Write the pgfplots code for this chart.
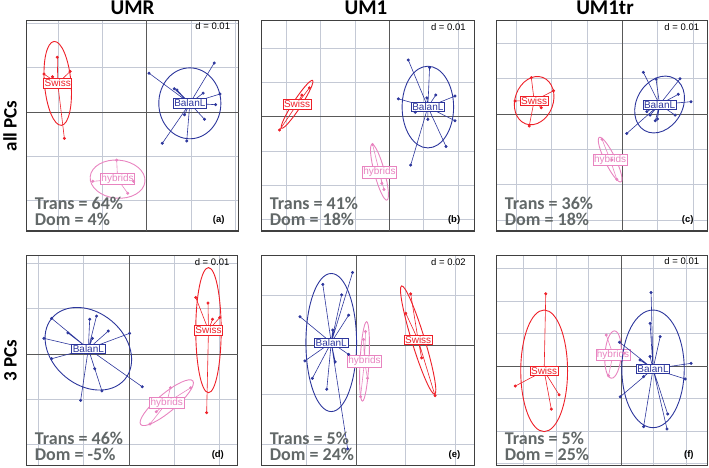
\documentclass[border=0pt]{standalone}
\usepackage{fontspec}
\setmainfont{Liberation Sans}
\newfontfamily\calfont{Carlito}
\usepackage{pgfplots}
\pgfplotsset{compat=1.18}

\definecolor{cred}{RGB}{238,32,40}
\definecolor{cblue}{RGB}{44,54,156}
\definecolor{cpink}{RGB}{232,132,192}
\definecolor{gridc}{RGB}{196,201,213}
\definecolor{statgray}{RGB}{98,104,104}

\newcommand{\ttl}{\calfont\bfseries\fontsize{21}{23}\selectfont}
\newcommand{\rowl}{\calfont\bfseries\fontsize{19}{21}\selectfont}
\newcommand{\stat}{\calfont\bfseries\fontsize{18}{16}\selectfont}
\newcommand{\lab}{\fontsize{10}{11}\selectfont}

\pgfplotsset{pan/.style={
    scale only axis, anchor=south west,
    axis line style={black!75, line width=1.1pt},
    xtick={-4,-3,-2,-1,1,2,3}, ytick={-4,-3,-2,-1,1,2,3},
    xticklabels={}, yticklabels={}, major tick length=0pt,
    grid=major, grid style={gridc, line width=1pt},
    extra x ticks={0}, extra y ticks={0},
    extra x tick labels={}, extra y tick labels={},
    extra tick style={grid style={black!65, line width=1pt}, major tick length=0pt},
}}

% colour, cx, cy, angle, x radius, y radius, star coordinates (centre, point, centre, point ...), label
\newcommand{\grp}[8]{%
  \draw[#1, line width=0.9pt, rotate around={#4:(axis cs:#2,#3)}]
    (axis cs:#2,#3) ellipse [x radius=#5, y radius=#6];
  \addplot[#1, line width=0.6pt, mark=*, mark size=1.2pt, mark phase=2, mark repeat=2] coordinates {#7};
  \node[draw=#1, line width=0.6pt, fill=white, text=#1, font=\lab, inner sep=1pt]
    at (axis cs:#2,#3) {#8};
}

% d, letter, trans, dom
\newcommand{\ann}[4]{%
  \node[anchor=base east, font=\fontsize{9.5}{11}\selectfont]
    at ([xshift=-5pt,yshift=-9.5pt]rel axis cs:1,1) {d = #1};
  \node[anchor=base east, font=\bfseries\fontsize{9.5}{11}\selectfont]
    at ([xshift=-10.5pt,yshift=8.3pt]rel axis cs:1,0) {(#2)};
  \node[anchor=south west, font=\stat, text=statgray, align=left, inner sep=0pt]
    at ([xshift=8pt,yshift=5pt]rel axis cs:0,0) {Trans = #3\%\\Dom = #4\%};
}

\begin{document}
\begin{tikzpicture}
\useasboundingbox (0,0) rectangle (709pt,467pt);

% ---------- (a) UMR, all PCs
\begin{axis}[pan, at={(26.7pt,236pt)}, x=44.33pt, y=44.33pt,
    xmin=-2.71, xmax=2.07, ymin=-2.68, ymax=2.07]
\grp{cpink}{-0.66}{-1.51}{-5}{0.62}{0.43}{(-0.66,-1.51)(-0.68,-1.08)(-0.66,-1.51)(-1.22,-1.56)(-0.66,-1.51)(-0.43,-1.83)(-0.66,-1.51)(-0.30,-1.56)}{hybrids}
\grp{cblue}{0.97}{0.20}{0}{0.70}{0.80}{(0.97,0.20)(0.05,0.88)(0.97,0.20)(0.62,0.53)(0.97,0.20)(0.68,0.50)(0.97,0.20)(1.52,1.11)(0.97,0.20)(1.27,0.43)(0.97,0.20)(1.65,0.41)(0.97,0.20)(1.55,0.17)(0.97,0.20)(0.85,-0.06)(0.97,0.20)(1.30,-0.16)(0.97,0.20)(0.90,-0.65)(0.97,0.20)(0.35,-0.70)}{BalanL}
\grp{cred}{-2.01}{0.65}{5}{0.30}{0.95}{(-2.01,0.65)(-2.02,1.24)(-2.01,0.65)(-2.32,0.86)(-2.01,0.65)(-2.13,0.80)(-2.01,0.65)(-1.73,0.92)(-2.01,0.65)(-1.86,-0.59)}{Swiss}
\ann{0.01}{a}{64}{4}
\end{axis}

% ---------- (b) UM1, all PCs
\begin{axis}[pan, at={(261.7pt,236pt)}, x=34.33pt, y=34.33pt,
    xmin=-3.72, xmax=2.47, ymin=-3.33, ymax=2.80]
\grp{cpink}{-0.29}{-1.62}{-75}{0.84}{0.15}{(-0.29,-1.62)(-0.49,-0.81)(-0.29,-1.62)(-0.22,-1.94)(-0.29,-1.62)(-0.16,-2.12)}{hybrids}
\grp{cblue}{1.12}{0.28}{0}{0.75}{1.19}{(1.12,0.28)(0.55,1.65)(1.12,0.28)(1.17,1.43)(1.12,0.28)(0.26,0.52)(1.12,0.28)(1.35,0.63)(1.12,0.28)(1.91,0.60)(1.12,0.28)(1.09,0.55)(1.12,0.28)(0.75,0.13)(1.12,0.28)(1.12,-0.08)(1.12,0.28)(1.91,-0.12)(1.12,0.28)(1.65,-0.87)(1.12,0.28)(0.62,-1.41)}{BalanL}
\grp{cred}{-2.69}{0.36}{57}{0.83}{0.12}{(-2.69,0.36)(-2.33,0.84)(-2.69,0.36)(-2.55,0.63)(-2.69,0.36)(-3.20,-0.39)}{Swiss}
\ann{0.01}{b}{41}{18}
\end{axis}

% ---------- (c) UM1tr, all PCs
\begin{axis}[pan, at={(496.7pt,236pt)}, x=35.33pt, y=35.33pt,
    xmin=-3.56, xmax=2.41, ymin=-3.31, ymax=2.64]
\grp{cpink}{-0.35}{-1.29}{-64}{0.70}{0.15}{(-0.35,-1.29)(-0.58,-0.71)(-0.35,-1.29)(-0.16,-1.85)(-0.35,-1.29)(-0.30,-1.30)}{hybrids}
\grp{cblue}{1.05}{0.27}{60}{0.85}{0.65}{(1.05,0.27)(0.59,1.18)(1.05,0.27)(0.95,0.99)(1.05,0.27)(1.63,1.00)(1.05,0.27)(1.58,0.56)(1.05,0.27)(1.94,0.35)(1.05,0.27)(0.78,-0.03)(1.05,0.27)(0.69,0.07)(1.05,0.27)(0.93,-0.19)(1.05,0.27)(0.99,-0.14)(1.05,0.27)(0.12,-0.55)(1.05,0.27)(1.49,-0.03)}{BalanL}
\grp{cred}{-2.50}{0.38}{-20}{0.54}{0.70}{(-2.50,0.38)(-2.58,1.03)(-2.50,0.38)(-1.95,0.66)(-2.50,0.38)(-3.04,0.37)(-2.50,0.38)(-2.30,0.18)(-2.50,0.38)(-2.64,-0.34)}{Swiss}
\ann{0.01}{c}{36}{18}
\end{axis}

% ---------- (d) UMR, 3 PCs
\begin{axis}[pan, at={(26.7pt,1.3pt)}, x=45.33pt, y=45.33pt,
    xmin=-2.26, xmax=2.40, ymin=-2.46, ymax=2.17]
\grp{cpink}{0.83}{-1.07}{40}{0.75}{0.20}{(0.83,-1.07)(0.91,-0.74)(0.83,-1.07)(1.36,-0.74)(0.83,-1.07)(0.46,-1.54)(0.83,-1.07)(0.60,-1.27)}{hybrids}
\grp{cblue}{-0.90}{0.12}{-40}{1.05}{0.80}{(-0.90,0.12)(-1.71,0.79)(-0.90,0.12)(-1.35,0.47)(-0.90,0.12)(-1.88,0.35)(-0.90,0.12)(-1.71,-0.10)(-0.90,0.12)(-0.87,0.77)(-0.90,0.12)(-0.72,0.84)(-0.90,0.12)(-0.81,0.35)(-0.90,0.12)(-0.46,0.51)(-0.90,0.12)(0.01,0.46)(-0.90,0.12)(-0.76,-0.32)(-0.90,0.12)(-0.60,-0.81)(-0.90,0.12)(-1.07,-1.02)(-0.90,0.12)(0.29,-0.72)}{BalanL}
\grp{cred}{1.75}{0.53}{0}{0.28}{1.38}{(1.75,0.53)(1.47,1.25)(1.75,0.53)(1.74,1.13)(1.75,0.53)(1.84,0.77)(1.75,0.53)(2.00,0.81)(1.75,0.53)(1.71,-1.29)}{Swiss}
\ann{0.01}{d}{46}{-5}
\end{axis}

% ---------- (e) UM1, 3 PCs
\begin{axis}[pan, at={(261.7pt,1.3pt)}, x=49.67pt, y=49.67pt,
    xmin=-1.90, xmax=2.38, ymin=-2.43, ymax=1.80]
\grp{cblue}{-0.50}{0.05}{0}{0.51}{1.39}{(-0.50,0.05)(-0.07,1.46)(-0.50,0.05)(-0.67,1.22)(-0.50,0.05)(-0.29,1.01)(-0.50,0.05)(-1.13,0.57)(-0.50,0.05)(-0.15,0.60)(-0.50,0.05)(-0.47,0.30)(-0.50,0.05)(-0.15,-0.19)(-0.50,0.05)(-1.03,-0.32)(-0.50,0.05)(-0.42,-0.34)(-0.50,0.05)(-0.88,-0.67)(-0.50,0.05)(-0.59,-0.89)(-0.50,0.05)(-0.17,-2.09)}{BalanL}
\grp{cpink}{0.17}{-0.33}{-3}{0.09}{0.80}{(0.17,-0.33)(0.19,0.27)(0.17,-0.33)(0.15,0.11)(0.17,-0.33)(0.23,-0.67)(0.17,-0.33)(0.09,-1.04)}{hybrids}
\grp{cred}{1.25}{0.10}{-73}{1.14}{0.13}{(1.25,0.10)(1.10,1.03)(1.25,0.10)(1.00,0.64)(1.25,0.10)(1.32,-0.26)(1.25,0.10)(1.59,-1.02)}{Swiss}
\ann{0.02}{e}{5}{24}
\end{axis}

% ---------- (f) UM1tr, 3 PCs
\begin{axis}[pan, at={(496.7pt,1.3pt)}, x=32.5pt, y=32.5pt,
    xmin=-3.83, xmax=2.66, ymin=-3.06, ymax=3.41]
\grp{cpink}{-0.25}{0.36}{-4}{0.25}{0.73}{(-0.25,0.36)(-0.46,0.96)(-0.25,0.36)(-0.39,-0.29)(-0.25,0.36)(0.09,0.40)}{hybrids}
\grp{cblue}{0.98}{-0.08}{0}{0.96}{1.81}{(0.98,-0.08)(0.92,2.27)(0.98,-0.08)(0.89,1.32)(0.98,-0.08)(1.20,0.91)(0.98,-0.08)(-0.05,0.74)(0.98,-0.08)(0.89,0.30)(0.98,-0.08)(0.58,0.19)(0.98,-0.08)(2.15,0.09)(0.98,-0.08)(1.97,-0.39)(0.98,-0.08)(0.69,-0.32)(0.98,-0.08)(-0.03,-0.94)(0.98,-0.08)(1.43,-1.47)(0.98,-0.08)(0.69,-1.86)(0.98,-0.08)(1.41,-1.93)}{BalanL}
\grp{cred}{-2.37}{-0.14}{0}{0.72}{1.87}{(-2.37,-0.14)(-2.32,2.23)(-2.37,-0.14)(-3.26,-0.61)(-2.37,-0.14)(-1.91,-0.88)(-2.37,-0.14)(-2.15,-1.32)}{Swiss}
\ann{0.01}{f}{5}{25}
\end{axis}

% ---------- titles
\node[font=\ttl, anchor=base] at (132.5pt,452pt) {UMR};
\node[font=\ttl, anchor=base] at (366pt,452pt) {UM1};
\node[font=\ttl, anchor=base] at (605pt,452pt) {UM1tr};
\node[font=\rowl, rotate=90, anchor=base] at (16.7pt,341pt) {all PCs};
\node[font=\rowl, rotate=90, anchor=base] at (16.7pt,106.3pt) {3 PCs};
\end{tikzpicture}
\end{document}
